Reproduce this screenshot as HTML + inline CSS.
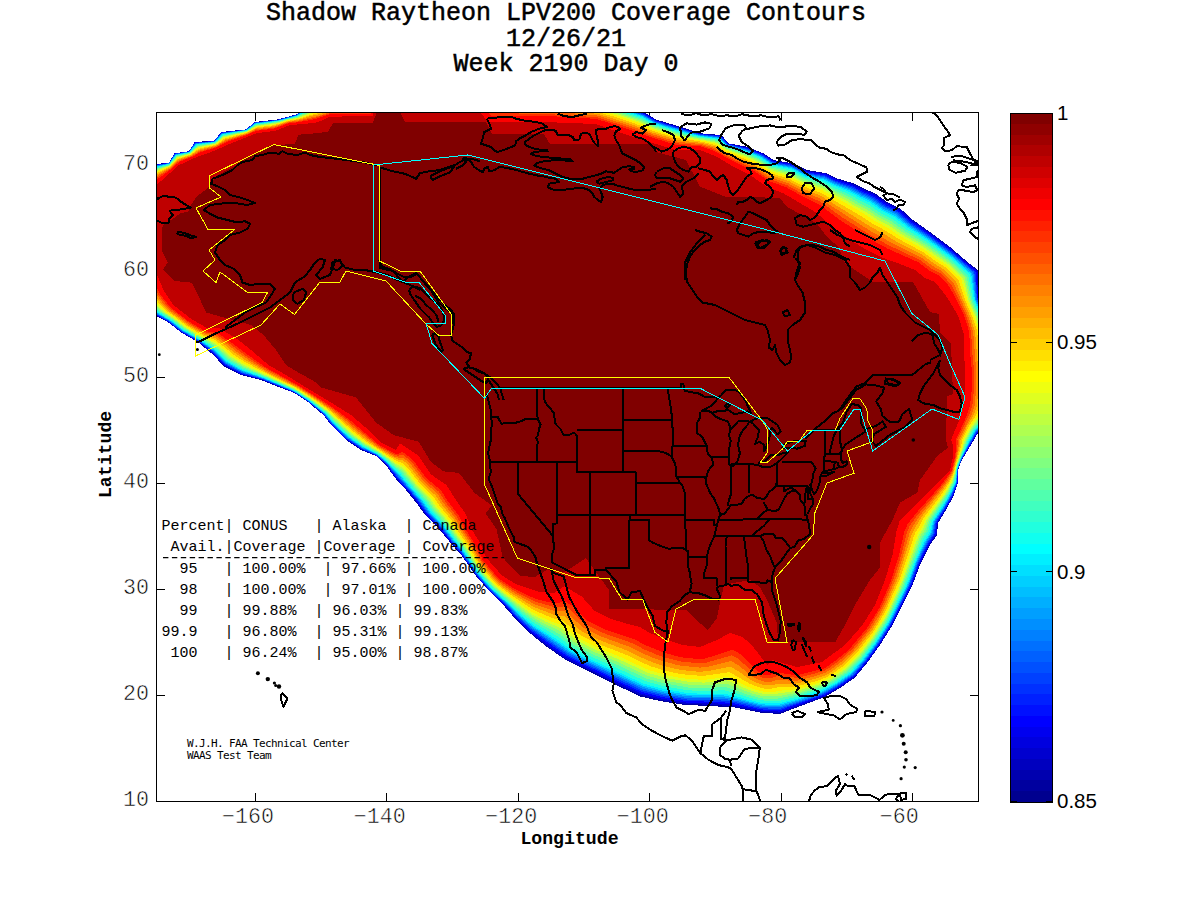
<!DOCTYPE html><html><head><meta charset="utf-8"><title>Shadow Raytheon LPV200 Coverage Contours</title>
<style>html,body{margin:0;padding:0;background:#fff;overflow:hidden}svg{display:block}.mono{font-family:"Liberation Mono","DejaVu Sans Mono",monospace}.sans{font-family:"Liberation Sans","DejaVu Sans",sans-serif}</style></head><body>
<svg width="1200" height="900" viewBox="0 0 1200 900">
<rect width="1200" height="900" fill="#fff"/>
<defs><clipPath id="ax"><rect x="157" y="113" width="821" height="688"/></clipPath></defs>
<path stroke="#000" stroke-width="1" fill="none" d="M255.5 801V793M255.5 113V121M386.5 801V793M386.5 113V121M518.5 801V793M518.5 113V121M649.5 801V793M649.5 113V121M781.5 801V793M781.5 113V121M912.5 801V793M912.5 113V121M157 165.5H165M978 165.5H970M157 271.5H165M978 271.5H970M157 377.5H165M978 377.5H970M157 483.5H165M978 483.5H970M157 589.5H165M978 589.5H970M157 695.5H165M978 695.5H970"/>
<g clip-path="url(#ax)">
<g shape-rendering="crispEdges"><path fill="#00009f" d="M156 164 169.3 162.7 174.7 153.3 189.3 151.3 194.7 142 214.7 140.7 221.3 132 246.7 129.3 254.7 122 278.7 119.3 297.3 114 299 112 310 106 330 106 373 105 400 98 480 92 540 92 580 96 620 104 644 112 656 119.5 681 127 700 133.3 721.7 135 728.3 143.3 746.7 146.7 763.3 153.3 773.3 160 793.3 163.3 806.7 170 826.7 173.3 836.7 178.3 853.3 183.3 863.3 188.3 875 193.3 886.7 201.7 900 208.3 912.5 219.5 930 232 950 247 967.5 262 978 270 979 298 986 315 992 333 995 360 997 387 995 410 988 425 978 433 975 438 968 450 961.7 460 958 470 958 483 953 497 946 510 938 523 937 535 930 545 920 565 912.5 585 902.5 605 892.5 625 880 645 867.5 662.5 855 677.5 840 688 825 697 810 702.5 790 710 780 714 760 712.5 735 707.5 710 706 685 705 660 701 640 696.4 617.8 685.8 600 676.9 582.2 668 564.4 659.1 546.7 646.7 528.9 632.4 514.7 618.2 504 605.8 489.8 591.6 475.6 575.6 462 556 449 541 438.9 528.9 426 516 416 502.4 406 490 400 484 391 472.5 386 465 376 456 361 450 346 440 331 425 323.5 415 308.5 402.5 293.5 392.5 273.5 385 261 380 241 375 223.5 366 213.5 355 198.5 342.5 181 332.5 168.5 322.5 156 316 145 305 132 280 128 240 130 200 140 175Z"/>
<path fill="#0000cf" fill-rule="evenodd" d="M781 712.5 780 712.9 774.5 712.8 761 711.9 734.5 706.3 709 704.7 686 704.1 660.5 700 640.5 695 619.9 685.5 564.5 658.1 547.2 646 529.5 632.1 513.7 616.5 505.1 606 488.5 590 478 578 460.5 553.5 448.1 539.5 440 529.3 426.3 515.5 415.2 500 407.5 490.9 399.7 483 391 471.9 386.4 465 379 458.1 374.5 454.9 361 449.5 346 439.5 331 424.5 322.5 413.6 308 401.7 294.5 392.7 262 379.8 241.1 374.5 223.8 365.5 213 353.9 200.5 343.6 196.5 340.8 181 332.1 168 321.8 156 315.5 145.1 304.5 132.3 279.5 128 241.5 130.1 200 140.5 175 156 164.4 169 162.7 174.5 153.4 189 151.2 194.5 142.4 214 141 221 132.4 246 129.4 254.5 122.3 278 119.5 296.5 114.5 299 112.3 310.5 106.3 350.5 106.1 352.5 105.6 372 105.3 375 104.1 400.5 98 432.5 96.1 481 92.2 539.5 92.4 579.5 96.4 619.8 104.5 643.8 112.5 656.5 120.3 700.5 133.7 721.5 135.5 728.5 143.7 747.9 147.5 762.8 153.5 773.5 160.8 792.7 163.5 807 170.9 826 173.5 836.5 178.8 852.5 183.7 864 189.5 874.5 193.8 886.5 202.5 899.9 209 913 220.9 929 232 949 247 965.5 261.3 977 270 977.5 270.9 977.5 277 978 278 978.6 298.5 985.5 314.7 991.5 332.7 992.1 336 994.6 358.5 996.1 383.5 996.6 385 994.5 410.2 987.5 424.7 977.5 433 961.3 460.5 958 469.5 957.6 483.5 953 496 950.5 501 937.6 523 936.5 534.5 929.3 545 920.1 563.5 912.5 583.8 892 624.9 879 645.8 867.3 662 855.3 676.5 844.2 684.5 824.6 696.5 781 712.5Z"/>
<path fill="#0000ff" fill-rule="evenodd" d="M780 711.6 761 710.6 734.5 704.9 718 703.5 686.5 702.6 661 698.5 641 693.4 621 684.2 565.5 657 548 644.8 530 631.1 514.5 616.3 505.7 606 489 590.1 478.4 578 460.9 553.5 448.8 539.5 440.5 529 426.8 515 415.6 499.5 408 490.5 400.2 482.5 391.5 471.9 386.8 465 379.1 458 375.5 455.1 361.5 449.4 346 439 331.4 424.5 322.6 413.5 308 401.6 294.5 392.6 262 379.6 241.5 374.1 224 364.9 213 353.3 200.5 343.3 181.4 332 168.5 321.8 156.5 315.4 145.6 304.5 132.6 279.5 128.1 241 130.2 200 140.5 175.4 156.3 164.5 169 162.8 174.6 153.5 189 151.3 194.8 142.5 214 141.1 221.2 132.5 246 129.5 254.5 122.5 278 119.7 296.5 114.7 299 112.5 310.5 106.5 350.5 106.3 352.5 105.8 372 105.4 375 104.1 400.5 98.1 432.5 96.2 481 92.3 539 93 579 96.9 619.5 104.9 643.5 112.9 656 120.5 700.5 133.9 721 135.7 728 143.7 747.5 147.8 762.5 153.9 773 161.1 792.5 164.2 806.5 171.4 825.5 174.4 836.5 179.8 852.5 185 863.5 190.7 873.5 194.8 885.6 203.5 899 210.1 912 221.6 929 233.3 949 248.1 965 262 975 269.7 976.5 271.5 978.2 298.5 985.1 315 991 333 991.6 336.5 994.5 364.5 995.9 385.5 993.8 410 987 424.4 977.1 433 968 449.2 961.8 459 957.9 469.5 957.6 482.5 957 484.7 952.9 495.5 949.8 501.5 937.2 522.5 935.5 534.5 928.4 545 919.2 564 912 583.6 891.5 624.8 878.5 645.6 867 661.5 854.5 676.3 841 685.8 824.5 695.6 780 711.6Z"/>
<path fill="#0030ff" fill-rule="evenodd" d="M780 710.1 775.5 710.3 761.5 709.4 735 703.5 726 702.6 718.5 701.9 686.5 701 661.5 697 641.5 691.8 621.5 682.7 566.5 655.8 530.5 630.1 515.4 616 506.1 605.5 491 591.4 486 585.9 476.1 574.5 461.3 553 449.3 539 441.1 528.5 427.6 514.5 416.2 499 408.5 489.9 401 482.2 392 471.5 386.9 464.5 379.5 457.9 375 454.6 361.5 448.9 346.5 438.6 332 424.5 323 413.5 308 401.3 294.5 392.3 262.5 379.4 241.5 373.4 224.5 364.3 216.8 356 210 350 197 340.4 181.4 331.5 168.5 321.4 156.5 314.8 146 304 133 279.1 130.9 266.5 128.2 241 130.4 200 134.5 189.5 140.9 175.5 156.5 164.8 169 163 175 153.6 189 151.5 195 142.8 214 141.3 221.5 132.7 246 129.7 254.9 122.5 278 119.8 296.5 114.9 299.5 112.5 310.5 106.9 350.5 106.4 352.5 105.9 371.5 105.5 375 104.2 400.5 98.3 432.5 96.3 481 92.5 506 93.7 538.5 93.8 543.5 94.2 579 97.6 619 105.6 643.5 113.7 654.7 120.5 657.5 121.6 700.5 134.2 720.5 136.2 728 144.2 747.5 148.5 762.1 154.5 773 161.8 792 164.9 806.5 172.3 825.5 175.5 836 180.8 852 186.2 863 191.9 872.7 196 885 204.8 898 211.1 911.5 222.7 928.1 234 951.5 251.4 975.5 272 977.6 299 984.5 315.5 989.9 332 990.8 336.5 993.7 365 995.1 385.5 993 409.6 986.5 423.7 976.7 432.5 961.7 459 957.8 469.5 957.2 483 952.3 495.5 945.2 508.5 936.6 522 934.7 534 927.6 544.5 918.6 563.5 911.2 583.5 897.2 612 890.7 625 878 645.1 866 661.5 854 675.6 837.5 687.1 824 694.8 780 710.1Z"/>
<path fill="#0060ff" fill-rule="evenodd" d="M776 709 761.5 708.1 735.5 702.2 726 701 718.5 700.3 687 699.5 662 695.4 642 690.3 587.5 664.7 567.5 654.6 531 629 516 615.4 506.6 605 491.5 591.1 486.3 585.5 476.8 574.5 461.7 552.5 449.8 538.5 441.7 528 428.5 514.2 416.9 498.5 392.5 471.1 387.5 464.5 379.7 457.5 376 454.7 362 448.5 346.7 438 332.2 424 323 413 308 401 294.5 392.1 262.5 378.9 242 372.8 225 363.7 217.3 355.5 210.5 349.6 197.5 340.2 181.5 331 169 321.2 157 314.4 146.5 303.6 133.5 279 131.1 266 128.4 241 130.6 200 134.5 189.9 141.2 176 156.5 165.3 169 163.2 175 154 189 151.7 195.5 143 214 141.5 215.8 140 221.5 133.1 246 129.8 255 122.8 278 120 296.5 115 299.5 112.8 311 107.3 328.5 106.6 350.5 106.6 369 105.8 372.5 105.4 375 104.2 400.5 98.4 481 92.9 505.5 94.5 538.5 94.6 578.5 98.3 619 106.3 643 114.3 655.5 121.6 695 133.3 700.5 134.7 720.5 136.8 727.6 144.5 747 149 762 155.2 772.5 162.3 792 165.8 806 173 825 176.5 835.5 181.8 851.5 187.3 862.5 193.1 872.5 197.5 884.4 206 897.5 212.4 910.5 223.5 931.5 237.8 954.5 255.2 974.2 272 975.3 279.5 976.9 299 983.7 315.5 989.5 333.5 992.9 365 994.2 386 992.1 409.5 986 423 976.4 432 961.7 458.5 957.6 469.5 956.9 482.5 951.6 495.5 944.5 508.2 935.7 522 933.6 534 926.8 544 917.8 563.5 910.4 583.5 896 613 890 624.8 877.2 645 865.5 660.9 853.4 675 837 686.4 821.5 694.8 781 708.5 776 709Z"/>
<path fill="#008fff" fill-rule="evenodd" d="M779.5 707.5 762 706.9 735.5 700.7 725.5 699.2 718.5 698.6 687.5 698 662 693.8 642.5 688.7 588 663.2 568 653.2 531.5 628 516.9 615 507.5 604.9 491.5 590.3 486.6 585 477.1 574 462 552 450.5 538.3 442.3 527.5 429.5 514 417.5 498 385.1 461.5 376.5 454.5 362 447.9 347 437.5 332.5 423.5 324.6 414 308.5 401 293.5 391.2 262.5 378.5 242 372.1 225.5 363 217.8 355 211 349.1 197.5 339.7 182 330.8 169 320.6 157.4 314 147.3 303.5 134.1 279 131.4 266 128.5 241 130.8 200 134.7 190 141.5 176.4 157 165.6 169 163.4 175.5 154.2 189 151.9 195.5 143.5 214.5 141.5 222 133.4 246 130 255 123.1 278 120.2 297 115.2 299.5 113.2 311 107.8 328 106.9 364.5 106.4 372 105.5 375 104.2 400.7 98.5 481.5 93.2 505 95.3 538 95.3 578.5 99.1 601 103.1 619 107.1 643 115.1 655.5 122.3 695 133.8 700 135.1 720 137.3 727.5 145 747 149.7 761.5 155.7 772.5 163.1 791.5 166.5 805.5 173.7 825 177.6 835 182.7 851 188.4 862 194.3 871.5 198.5 883.5 207 896.5 213.4 909.8 224.5 931 238.7 954 256.1 973.2 272.5 974.3 279.5 976.1 299 982.9 315.5 988.7 333.5 992 365 993.4 386 991.2 409.5 985.4 422.5 975.6 432 961.4 458.5 957.5 469.5 956.5 482.5 951.2 495 944 507.8 935.1 521.5 932.7 533.5 926 543.5 917.1 563 908.2 586.5 889.7 624 876.7 644.5 864.9 660.5 852.6 674.5 836.5 685.7 823.5 693 798 701.9 779.5 707.5Z"/>
<path fill="#00bfff" fill-rule="evenodd" d="M780 706 776 706.4 762 705.6 735.5 699.2 723 697.2 687.5 696.4 662.5 692.3 643 687.1 588.5 661.8 569 652.1 556 642.6 532 626.9 517.5 614.3 508 604.5 493.5 591.4 487.3 585 477.5 573.6 462.8 552 451 537.8 443 527 430 513.2 421.5 501.5 403.3 481 400.5 477.2 385.5 461.3 376.5 454.1 362.4 447.5 347.5 437.1 333.2 423.5 325 413.8 308.5 400.6 293.7 391 263 378.2 242 371.3 226 362.4 218.3 354.5 211.5 348.7 198 339.5 182.4 330.5 171 321.4 157.5 313.4 147.7 303 134.5 278.5 131.7 266 128.7 241 131 200.5 134.9 190 142 176.5 157 166.1 169 163.7 175.5 154.6 189.2 152 196 143.8 214.5 141.8 222 133.8 246.4 130 255.5 123.3 278 120.5 297 115.5 300 113.4 311 108.2 328.5 107.2 364.5 106.7 372 105.6 375 104.3 401 98.7 481.5 93.6 490.5 94.2 504.5 96.1 538 96.2 578.5 99.8 598.5 103.3 618.5 107.7 642.5 115.7 655.5 122.9 685 131.6 700 135.5 719.5 137.8 727.5 145.5 747 150.4 761.5 156.5 772 163.6 791.5 167.4 805.5 174.6 825 178.7 835 183.9 850.5 189.6 861.4 195.5 871 199.9 883 208.3 895.5 214.4 909.1 225.5 930.5 239.7 953.5 256.9 972.3 273.5 975.5 299.5 982.4 316 988 334 991.3 365.5 992.5 386 990.3 409.5 984.8 422 975 431.9 961.1 458.5 957.3 469.5 956.1 482.5 950.6 495 943.5 507.3 934.5 521 931.7 533 925.2 543 916.5 562.5 910.2 580 906.7 588 889.2 623.5 876.2 644 864.3 660 852 673.9 836 685.1 823 692.2 797.5 700.9 780 706Z"/>
<path fill="#00efff" fill-rule="evenodd" d="M778 705 762.5 704.4 750 701.7 735.5 697.7 723 695.4 701 695.5 687.5 694.8 662.5 690.6 643.5 685.6 589 660.4 569.5 650.6 557 641.5 533.5 626.6 529.5 623.4 518 613.6 508.5 604 491.7 589 487.6 584.5 478 573.4 463.2 551.5 454.4 541 443.5 526.4 430.5 512.5 422.2 501 404 480.5 401 476.5 385.9 461 377 453.9 362.5 446.9 347.7 436.5 333.5 423.1 325.3 413.5 308.5 400.2 294 390.8 263 377.7 242.5 370.8 226.5 361.8 218.8 354 212 348.2 198 338.9 182.5 330 171.2 321 157.9 313 148.5 303 139.6 286 135.1 278.5 132 266 128.9 241 131.2 200.5 135.2 190 142.2 177 157 166.6 169.5 163.6 175.6 155 189.5 152.1 196 144.2 214.5 142.1 222.5 134.1 246.5 130.2 255.5 123.6 278 120.8 297 115.8 300 113.7 311.5 108.6 328.5 107.5 365 107 372 105.7 375 104.3 401 98.9 481.5 93.9 490.5 94.7 504 96.9 538 97 578 100.5 598.5 103.9 618.5 108.5 642.5 116.4 655 123.4 677 130.1 700 136 719.5 138.5 727 145.8 746.5 150.9 761 157 772 164.3 791 168.2 805.5 175.5 824.5 179.7 834.5 184.8 850 190.7 860.5 196.5 870.2 201 882.3 209.5 894.5 215.5 908.4 226.5 929.8 240.5 952.7 257.5 971.3 274 974.8 299.5 981.6 316 987.2 334 990.4 365.5 991.7 386.5 989.6 409 984.1 421.5 975 430.9 970 439.5 960 460.5 957.1 469.5 955.8 482 951.8 491 943 506.8 933.6 521 930.8 532.5 924.4 542.5 915.7 562.5 909.4 580 905.9 588 888.5 623.3 875.6 643.5 863.7 659.5 851.5 673.2 835.5 684.4 820.5 692.1 797 700 778 705Z"/>
<path fill="#20ffdf" fill-rule="evenodd" d="M777.5 703.5 760.5 702.5 748 699.7 735.5 696 723.5 693.5 701 693.7 688 693.1 663 688.9 644 683.8 589.5 658.8 570.5 649.2 557 639.3 534 625.4 524 617.3 492.6 589 488 584 475.8 569.5 463.6 551 455 540.5 443.9 525.5 431.5 512.1 423.1 500.5 404.8 480 400.5 474.5 394.8 469.5 386.1 460.5 377.2 453.5 363 446.5 348.1 436 334 422.7 325.4 413 309 400.1 294 390.4 263 377.2 242.5 370 227 361.1 219.5 353.5 212.5 347.6 198.3 338.5 183 329.7 171.5 320.6 158.3 312.5 149 302.5 140.2 285.5 136 278.9 134.8 275.5 132.2 265.5 129.1 241 131.5 200.5 135.5 190 142.5 177.4 157.5 166.9 169.5 163.9 176 155.2 189.5 152.4 196.5 144.6 214.5 142.3 216.4 141 222.5 134.6 246.5 130.4 255.5 124 278.3 121 297 116.1 300.4 114 311.5 109.2 328.5 107.8 365 107.4 372 105.8 375 104.3 401 99.1 481.5 94.3 490 95.2 503.5 97.8 537.5 97.8 578 101.3 598.5 104.7 618.5 109.3 642 117.1 655 124.2 677 130.8 699.5 136.4 719 139.1 727 146.3 746.5 151.7 760.5 157.6 772 165.2 791 169.2 805 176.4 824.5 181 834 185.9 850 192.3 860 198 869.6 202.5 881.8 211 894 217 907.4 227.5 929 241.4 952.2 258.5 970.1 274.5 973.9 299.5 980.9 316.5 986.2 333.5 989.5 365.5 990.7 386.5 988.6 409 983.4 421 974.5 430.4 969.6 439 960.8 458 958.3 464.5 956.9 469 955.4 481.5 954.5 483.8 946.5 499.7 932.9 520.5 929.7 532 923.5 542 914.9 562 908.7 579.5 905.2 587.5 888 622.7 876 641.6 863 659 850.8 672.5 835 683.6 820 691.2 796.5 698.9 777.5 703.5Z"/>
<path fill="#50ffaf" fill-rule="evenodd" d="M778 701.1 769.5 701.1 760.5 700.2 750.5 697.9 736 693.3 724.5 690.3 701 691 688.5 690.3 678.5 688.8 663.5 686.1 645 681 615.5 667.3 590.5 656.3 572 647 558.5 636.9 535 623.5 520.5 612.3 493.5 588.5 489 583.7 476.6 569 464.6 550.5 456 539.8 445 524.5 432.7 511 426.8 502.5 405.9 479 401.5 473.2 395.6 468.5 386.8 460 377.7 453 363.1 445.5 349 435.3 335 422.4 325.9 412.5 309.1 399.5 294 389.9 263.5 376.5 243 368.8 227.9 360 220.3 352.5 213 346.5 183.4 329 172 320 159 311.8 150 301.9 141.2 285 136.9 278.5 135.6 275 132.8 265.5 129.4 240.5 132 200.5 135.7 190.5 143.1 178 157.5 167.8 169.5 164.4 176.5 155.7 189.5 152.9 197 145.2 214.5 142.8 216.5 141.5 223 135.2 246.5 130.8 256 124.5 274.5 122.2 297.5 116.5 300.5 114.6 311.5 110 328.5 108.3 365.5 107.9 372.5 105.8 375 104.4 401 99.4 481.5 95 489.6 96 502.5 99.3 537.5 99.3 578 102.7 600.5 106.3 618 110.5 641.5 118.3 654.5 125.2 676.5 131.8 699.5 137.2 703.5 137.5 718.5 140 726.5 147 745 152.3 758.5 158 771.5 166.3 790.5 170.6 804.5 177.8 824 182.8 833 187.6 849 194.3 859 200.1 868.5 204.7 880.5 213.1 892.5 219 905.7 229 928 243 951 259.8 968.3 275.5 972.7 300 979.8 317 984.8 333.5 988.1 366 989.2 386.5 987 408.8 982.3 420 973.8 429.5 968.7 438.5 957.9 464.5 956.5 469 955.8 475.5 953.8 483.5 945.5 499.2 931.3 520.5 927.9 531.5 924.4 536.5 922 541.1 903.6 588 887 622 874.9 641 862 658.1 851.6 669.5 849 672 834 682.4 819.5 689.6 796 697 778 701.1Z"/>
<path fill="#80ff80" fill-rule="evenodd" d="M778 698.5 770 698.8 763.5 698.5 758.5 697.5 748.5 694.9 725.5 687 702 688.2 688.5 687.5 664 683.3 646.5 678.5 617 664.8 591.8 654 573.5 644.8 559.5 634.1 536.5 621.9 521.5 611 493.5 587.2 482.6 575 475.2 565.5 465.5 549.9 454.3 535.5 446.4 524 434 510.1 428.1 501.5 415 487.3 402 471.5 396.5 467.6 388.1 460 378.2 452.5 363.5 444.6 349.5 434.4 335.5 421.6 326 411.7 309.5 399.1 294.5 389.5 263.5 375.7 243.5 367.7 229 359 221.1 351.5 213.7 345.5 184 328.4 172.5 319.3 159.7 311 151.1 301.5 142 284 137.8 278 134.7 270 133.2 265 129.8 240.5 132.5 200.5 136.1 190.5 143.8 178.5 157.9 168.5 169.5 164.9 176.5 156.4 190 153.1 197 146 215 143.1 223 136 246.5 131.2 256 125 278.5 121.9 287 119.2 297.5 117 301 115.1 311.5 110.9 329 108.8 366 108.4 375 104.4 401 99.8 481.5 95.6 489.5 96.9 501 100.7 537 100.7 577.5 104 598 107 618 111.9 641 119.5 654 126.1 676.5 133 699 138 703.5 138.3 718 141 726.5 148 745 153.5 758 159.1 771 167.4 790.5 172.2 804.5 179.4 823.5 184.7 832.5 189.4 848 196.4 858 202.3 867.4 207 879.5 215.3 891 221 904.5 230.9 928.5 245.6 950 261.2 966.5 276.5 971.4 300 978.6 317.5 983.6 334 986.6 366 987.7 387 985.8 407.5 983 415 981 419.5 973 428.8 967.8 438 957.6 464 956.1 469 955.5 474.2 953.6 482 947 494.7 929.9 520 926.1 531 922.9 535.5 920.4 540.5 902.4 587.5 885.9 621.5 873.7 640.5 860.8 657.5 850.5 668.5 848 670.9 833.5 681 818.5 688.1 795.5 695.1 778 698.5Z"/>
<path fill="#afff50" fill-rule="evenodd" d="M771 696.5 763.5 696.2 754 694.1 726.5 683.7 703 685.4 689 684.7 664.5 680.5 647 675.6 618.9 662.5 593 651.6 574.5 642.3 560.5 631.3 541 621.9 531.5 616.2 522.9 610 499 590.6 494 586.3 480.9 571.5 475 563.5 466.1 549 455.1 534.5 447.5 523 435.1 509 429.4 500.5 416.2 486.5 402.5 469.8 396.5 465.9 388 458.8 378.7 452 364 443.8 350.1 433.5 336.3 421 326.5 411.2 310 398.8 294.5 388.9 244 366.5 230 358 214.4 344.5 202.5 338.3 184.5 327.7 173 318.7 162.7 312 159.6 309.5 152.1 301 143.1 283.5 138.8 277.5 135.3 269.5 133.7 265 130.1 240.5 132.9 201 135.5 192.5 144.5 179 158 169.3 170 165.1 177 156.9 190.1 153.5 197.5 146.6 215 143.6 223.5 136.5 246.6 131.5 256 125.6 278.5 122.4 287.5 119.5 297.6 117.5 312 111.6 329 109.4 366.5 108.9 375 104.5 401.5 100.1 482 96.3 489.5 97.9 500 102.1 537 102.1 577.5 105.3 600 108.5 617.5 113.1 640 120.5 653.5 127.1 678.5 134.6 717.6 142 726 148.6 744.5 154.6 757.5 160.2 771 168.7 790 173.6 804 180.9 823 186.5 847 198.4 857 204.5 866 209.1 878 217.2 889.5 223 903 232.6 927.5 247.2 949 262.6 964.7 277.5 970 300 977.4 318 982.3 334.5 985.2 366.5 986.1 387 984.2 407.5 980.4 417.5 972 428.3 967 437.5 957.2 464 952.8 482 946 494.3 928.3 520 924.6 530 921.4 534.5 919 539.5 901.3 587 887 617 872.9 639.5 859.8 656.5 849.4 667.5 843.1 672.5 830 681.3 819.5 686 798.5 692.5 777 696.3 771 696.5Z"/>
<path fill="#dfff20" fill-rule="evenodd" d="M774 694 764 694 754.5 691.8 747 689.1 727 680.3 704 682.6 689.5 681.9 667.5 678.3 648 672.8 625 662 594 649.1 576 640.1 561.5 628.4 545.5 621.5 531.5 614 524.5 609.1 499.3 589.5 491.3 582 478.9 567.5 467.1 548.5 456.3 534 448.5 522 436.5 508.2 430.6 499.5 417.1 485.5 403 468.1 396 464 379 451.4 364.5 443 351 432.9 326.8 410.5 310 398.1 295 388.6 244 365.1 230.5 356.6 222.7 349.5 215 343.5 203 337.7 184.9 327 173.5 318.1 166.5 313.6 160 308.5 152 299 144 282.8 140 277.5 136.3 270 134.3 265 130.5 240.5 133.3 201 136 192.5 145.2 179.5 158 170.2 170 165.6 177.2 157.5 190 154 198 147.2 215.5 143.9 224 137.1 247 131.8 256.5 126.1 273.5 124 278.5 122.9 287.5 120 298 117.9 312 112.5 329 109.9 366.8 109.5 375 104.6 401.5 100.5 482 97 489 98.7 499 103.5 537 103.6 577.5 106.6 599.5 109.6 617.5 114.4 639.5 121.7 653.5 128.3 678 135.7 698.5 139.5 703 139.9 717.5 143.1 725.9 149.5 744.5 155.8 757 161.3 771 170.1 789.5 175 803.5 182.3 822 188.2 846 200.5 855.5 206.4 864.5 211.1 877 219.5 888 225 901.5 234.3 924.5 247.5 948 264 962.8 278 964.2 282 968.6 300 975.2 315.5 980.4 332 983.7 366.5 984.6 387 982.8 407 979.1 417 971 427.9 964.7 440 963.1 446 956.8 464 954.7 473.5 952.1 481.5 945 493.9 926.8 519.5 922.8 529.5 919.9 533.5 917.7 538 902.6 580.5 890 608.5 883.7 620.5 871.7 639 858.9 655.5 851 663.8 846.1 668.5 831.5 678.7 819 684.4 798 690.7 774 694Z"/>
<path fill="#ffef00" fill-rule="evenodd" d="M776 691.5 764 691.7 755 689.5 747.5 686.6 728 676.9 704.5 679.8 689.5 679.1 677.5 677.5 668 675.5 649 670.1 637.4 665 626 659.3 595 646.7 578 638.1 572.5 634.2 562.5 625.5 550.5 621.2 541 616.9 531.5 611.8 510 596.5 497.5 586.7 492 581.4 479.5 566.7 475 560.1 469.4 550 457.2 533 449.6 521 437.6 507 431.9 498.5 418.5 484.9 405.5 468.5 403 466 395.5 462.3 379.5 450.9 364.7 442 351 431.5 327 409.7 310.5 397.8 295 388 244.5 363.9 231.3 355.5 223.5 348.5 215.5 342.4 203.5 337 187.5 327.7 174 317.5 167 312.9 160.9 308 153 298.5 144.9 282 141 277 135 265.5 130.8 240.5 133.8 201 136.4 192.5 145.8 180 158.5 170.8 170.1 166 177.5 158 190 154.4 198 147.9 215.5 144.3 224 137.8 247 132.1 256.5 126.7 274.5 124.4 287.5 120.4 298 118.4 312.5 113.3 329 110.4 367 110.1 375 104.6 401.5 100.8 482.5 97.7 489 99.8 497.5 105 542 105.3 577 107.9 599.5 110.8 617 115.6 634 121.2 639.5 123.1 653 129.3 675.5 136.1 693 139.5 703 140.7 716.5 143.8 725.5 150.3 744 156.8 756.5 162.4 771 171.5 789.5 176.6 803 183.8 822 190.2 845.5 202.9 863.5 213.4 876 221.7 887 227.3 900 236 923.5 249.2 936.5 258.6 947 265.4 961.1 279 967.4 300.5 974 316 979 332 982.3 366.5 983 387 981.3 406.5 977.9 416 970.3 427 963.8 439.5 962.4 445.5 955.1 468.5 954.2 473.5 951.3 481.5 942 496.4 926.3 517.5 921.2 528.5 918 533.2 915.5 539 899 586 886.5 613 882.6 620 870.9 638 858 654.5 852.8 660 845 667.4 831 677.3 818.5 682.8 800.5 688.1 793 689.6 778.5 690.8 776 691.5Z"/>
<path fill="#ffbf00" fill-rule="evenodd" d="M772.5 688.5 764 688.5 755 686.1 748.4 683 729.5 672.1 704.5 675.8 690 675.2 675.5 673.1 661.5 669.7 650.5 666.2 638.5 661 627.5 655.4 596.5 643.2 581 635.5 575 631.3 563.5 621 552.5 618.2 533.5 609.9 511 595.1 498 585.3 493 580.5 478.7 563.5 470.8 549.5 458.6 532 451.7 520.5 439.5 505.8 433.7 497 419.9 483.5 407 467 403.5 463.6 395 460.1 365.6 441 352.1 430.5 327.7 409 311 397.2 295.5 387.4 263.9 372 244.5 361.8 232.6 354 224 346.6 215 340 204 335.9 186 325.4 174.5 316.4 167.5 311.8 162 307 154.3 297.5 146.2 281 142.5 276.5 135.8 265.5 134.5 260 131.3 240.5 131.3 237.5 134.4 201.5 136.5 193.5 138 191.1 147 180.6 159 171.8 170.5 166.4 178 158.7 190.5 154.8 198.5 148.8 216 144.8 224.5 138.7 247 132.7 256.6 127.5 274 125.3 287.5 121 298 119.2 312.5 114.5 328.5 111.2 367.5 110.8 369.1 110 375 104.7 381 103.8 401.5 101.3 482 98.6 485 99.3 488.3 101 495.5 107 541.5 107.3 577 109.8 599 112.4 616.5 117.3 633.5 122.9 652.5 130.8 675.5 137.8 702.5 141.8 716 145.2 725.5 151.6 743.5 158.4 756.5 164.3 770.5 173.2 789 178.7 802 185.7 822 193.3 861.8 216.5 874 224.6 885 230.3 897 238 923.5 252.3 935 260.8 945.1 267 958.8 280.5 965.7 301.5 972.3 316.5 976.6 329.5 977.5 334.5 980.2 367 980.9 387 979.1 406.5 976 415.4 968.8 426.5 962.2 439.5 961.5 444.5 953.5 473.3 950.2 481 945.5 488.5 940 496.5 924.2 517 918.5 528 915.7 532 914 536 899.8 579 885.1 612 873 632.1 856.5 653.3 844 665.5 832.5 673.8 826.5 677.2 817.5 680.7 799 685.8 792 686.8 778 687.4 772.5 688.5Z"/>
<path fill="#ff8f00" fill-rule="evenodd" d="M772.5 685 764.5 685.1 756 682.7 750.1 679.5 738.5 671.3 730.5 666.6 707 671.3 698.5 671.7 689 670.9 677 669.2 662.5 665.5 652 662.1 640 657 629.5 651.5 598.5 639.7 583 632 577.3 628 564.5 616.2 558.5 615.6 553 614.4 533.5 606.8 511.5 593.4 498.7 584 494 579.5 479.6 562.5 472 548.5 460 530.6 453.5 519.3 441.5 504.5 435.6 495.5 421.5 482.2 408.5 465.2 403.5 460.7 398 459.5 394.5 458.1 376.5 447 366.5 439.9 353.3 429.5 328.1 408 311.4 396.5 296 386.8 264.5 371 245.5 360.2 234 352.4 225 345 215.5 338.2 204 334.5 189 325.9 168.5 310.9 163 305.8 155.6 296.5 147.5 279.6 142.7 274 136.8 265.5 135.9 263.5 131.9 241 131.8 238 135 201.5 136.9 194 137.7 192.5 147.8 181.5 159.5 172.9 170.5 167.2 178.5 159.4 190.5 155.5 199 149.7 216 145.5 225.1 139.5 246.5 133.4 257 128.2 274 126.1 288 121.5 298 119.9 310 116.3 329 111.9 368.5 111.6 375.5 104.6 401.5 101.9 482 99.6 486.4 101.5 491.7 107.5 494.5 109.1 541.5 109.4 571 111.2 598.5 114 632.5 124.6 652 132.4 675 139.3 682 140.7 702 143 715 146.5 725 152.8 743 160 755.5 165.8 770 175.1 788 180.7 801 187.7 821 195.9 872.5 227.9 884.9 234.5 895.4 241 922.5 254.9 933.5 263.2 943.5 269.1 947.4 272.5 956.3 282 963.2 300.5 970.3 316.5 975.1 332 978 367 978.6 387 976.9 406 974.3 414 967.2 426 960.5 440 960.2 444.5 953.1 472.5 948.9 481 944.4 487.5 922.2 516 914.3 529 911.4 535.5 898.1 578 885.4 607.5 879.7 618 871.9 630.5 855.4 651.5 842.5 663.8 831.1 672 826 675 815 678.8 798.5 683.2 794 683.7 778 683.7 772.5 685Z"/>
<path fill="#ff6000" fill-rule="evenodd" d="M772 681.6 764.5 681.7 757 679.3 752.5 676.5 738 665.1 731.5 661 706.5 667.1 699.5 667.6 678.5 665.3 664 661.5 654 658.2 642 653.2 631 647.3 600.5 636.3 585 628.6 580.5 625.4 568.2 613.5 565 611.3 558.5 611.4 554 610.8 534 604 512.5 591.9 499.5 582.7 495 578.5 480.6 561.5 473.5 547.9 461.5 529.5 455.2 518 443.5 503.2 437.5 493.9 423.2 481 410 463.5 403.5 457.8 398 457.5 394.5 456.5 377.7 446.5 354 428 348.5 422.9 332.4 410 312 395.9 296.5 386.2 265 369.9 249.5 360.5 235.5 350.9 226 343.3 216 336.4 204 333.2 189.5 324.7 169.4 310 164 304.6 157 295.5 148.9 278.5 137.1 264.5 135.8 259.5 132.5 241 132.4 238 135.7 201.5 138 193.1 148.5 182.6 160 174 170.5 168 179 160.1 190.5 156.2 199.8 150.5 216.5 146 225.5 140.4 247 133.8 255.5 129.5 274.5 126.8 288 122.1 298 120.7 321 115.2 329 112.7 369 112.4 373.9 106 375.5 104.7 402 102.4 481 100.5 483 100.9 485 102.1 486.7 104 489.3 108.5 493.5 111.2 541 111.5 571 113.2 598 115.6 636.5 127.9 653 134.4 675 141.1 678 141.8 701.5 144.2 714.5 147.8 724.5 153.9 754.5 167.3 770.5 177.5 787.5 182.9 802 190.8 819.5 198.3 870.5 231 893.5 243.9 921 257.3 932 265.6 942.4 271.5 953.6 283 968.5 317 973.2 332 975.9 367.5 976.2 389.5 974.6 406 972.3 413 959 439.7 959 444 956.3 458 952.5 472 947.7 480.5 943 487 920.3 515 912 527.5 909.5 533 902.5 558 896.2 577.5 884 606.5 878.3 617 870.4 629.5 854 650.1 850.8 653.5 841.1 662 830 670.1 825 672.9 814.5 676.3 798 680.5 794 680.8 777 680 772 681.6Z"/>
<path fill="#ff3000" fill-rule="evenodd" d="M768 678.5 762.5 677.8 757.6 675.5 737 658 732 655.3 706 662.8 700 663.5 679.5 661.3 665 657.4 655.5 654.2 643.5 649.1 633 643.4 602.5 632.8 587 625.1 581.6 621 570.5 609.8 565 606.2 558.5 607.2 554 607 535.5 601.8 513 590.2 500.4 581.5 496 577.5 481.5 560.5 474.8 547 465.5 532.5 457.1 517 445.5 502 439 491.9 424.7 479.5 411.8 462 404 455.5 402.5 454.6 398.5 455.7 395 455.2 378.5 445.8 355 426.8 347.4 420 333 409 322 401.5 297 385.5 262.8 367 247 356.7 227 341.7 216.5 334.6 204.5 332.1 190 323.6 168.6 307.5 158.3 294.5 150.4 277.5 138.1 264.5 137.3 263 133 241.1 132.9 238.5 136.3 202 138.4 193.5 149 183.8 160.5 175.1 170.5 168.8 177 162.6 179.5 160.9 192.5 155.9 200 151.5 216.5 146.8 226.5 141 248.5 133.8 256 130.1 274.5 127.7 288.5 122.6 298 121.5 314 118 329.5 113.4 370 113.2 373.8 106.5 375.5 104.8 402 102.9 480.5 101.4 482.5 101.9 484 103 487.2 109.5 492.5 113.4 541 113.6 597 117.2 634.5 129.3 652.5 136 675 142.8 677.5 143.4 701 145.3 713.5 149 728 157.1 753.5 168.8 769.5 179.1 786.8 185 801 192.9 818.5 200.9 823.5 203.9 842 217.2 868.5 234 888.5 245.2 920 260 930.5 268 941 273.6 951.2 284.5 955.7 293 966 315.5 971.2 332 972.1 351 973.7 366.5 974 389.5 972.3 406 969.9 413 957.5 439.5 957.7 444 955.6 458 952 471.5 946 480.8 936 493.4 917.9 514.5 909.7 526 906.9 532.5 900.5 557.5 894.5 576.5 882.3 606 869 628.5 852.3 649 838.7 661 828.5 668.4 824 670.8 814 673.9 797.5 677.8 776.5 676.2 772 678 768 678.5Z"/>
<path fill="#ff0000" fill-rule="evenodd" d="M798 675 795 675.1 775.5 672.3 772.5 674 769.5 674.9 766 675.1 763 674.4 758.4 671.5 739.5 653.5 734.5 650.6 732 649.9 704.5 658.8 701 659.4 680.5 657.2 663 652.3 645.5 645.3 634.5 639.3 604.5 629.3 589 621.7 584.3 618 573.3 606.5 564.5 601.1 558 603.1 554.5 603.4 536 599.1 514 588.8 501 580.1 497 576.5 482.5 559.5 476.5 546.9 466.7 531 459 515.9 447.5 500.7 441 490.4 426 477.9 413 460 402.5 451.8 402 451.6 398.5 453.8 395.5 454 379.2 445 350.4 420.5 330 405.5 297.5 384.9 266.5 367.9 248.5 355.4 232 342.9 217.5 333.1 205.5 331.1 203.5 330.2 187.5 320.5 170 307 159.7 293.5 151.5 276 138.5 263.7 137.5 261 133.5 241 133.4 238.5 137 202 138.7 194 149.5 184.9 170 170.1 179.5 161.8 192.8 156.5 200.5 152.3 217 147.3 228 141.4 246.5 135.2 256 130.9 274.5 128.5 288.5 123.3 298.5 122.2 314 119.3 321.5 117.2 329.5 114.2 370.5 114 371.1 113.5 374 106.5 375.5 104.9 402 103.4 480.5 102.3 482 102.8 483.2 104 485.4 110.5 491.5 115.5 544 115.7 596.5 118.9 634 131.1 652 137.6 674.5 144.4 677.5 145.1 700.5 146.4 713 150.4 735 162.2 753 170.5 769 181.1 786 187.1 800 195 817 203.3 822 206.4 840 220 867 237.4 887 248.3 918.5 262.3 929.5 270.7 939.5 275.7 948.9 286 953.8 294.5 963.7 314.5 969.3 332 970 351.5 971.5 366.5 971.8 389 970 406 964.7 420.5 955.8 440 956.5 444 954.9 458 951.5 471 940.5 485.6 916.3 513 907.5 524.2 904.4 531.5 898.5 557 890.3 582.5 879.1 608.5 867.1 628 848.6 650 837.5 659.1 827.4 666.5 823.5 668.6 798 675Z"/>
<path fill="#bf0000" d="M156 185.3 166.7 176 178.7 165.3 196 157.3 214.7 150.7 229.3 144 242.7 138.7 256 133.3 276 130.7 289.3 125.3 316 122.7 323 120 330 116.7 373 116 375 105 480 105 480 112 488 122 544 122 596 124 612 130 624 134 656 144 676 150 700 150 716.7 156.7 733.3 166.7 750 175 766.7 186.7 783.3 193.3 800 203 816.7 213 833.3 228 850 240 866.7 250 883.3 258 900 264 915 270 925 278 935 282 947.5 297.8 958 315.6 963.6 333 963.6 351 965.3 369 965.3 386.7 963.6 404.4 960 418.7 954.7 431 951 440 953 445 953 457 950 470 940 480 930 490 920 500 910 510 900 520 896.7 530 892.5 555 885 580 875 605 862.5 625 845 645 822 662 797 667 772 660 767 665 758 653 750 643 742 637 730 633 717 640 700 647 683 645 667 640 650 633 640 627.1 626.7 623.6 608.9 618.2 594.7 611.1 582.2 596.9 564.4 586.2 553.8 593.3 537.8 591.6 516.4 584.4 502.2 575.6 486.2 557.8 480.9 544.4 471.5 528.9 465.3 513.3 454.4 497.8 446.7 485.3 431 474.4 418.7 455.8 400 443.3 396 450 381 442.5 368.5 430 351 415 331 402.5 306 387.5 286 375 268.5 365 251 350 238.5 340 218.5 327.5 206 327.5 191 318.8 173.5 305 163.5 290 156 272.5 140 262 135 240 140 195Z"/>
<path fill="#800000" d="M180.6 213 188 212 190.7 205.3 196 197.3 209.3 186.7 216 176 236 165.3 249.3 156 270.7 145.3 294.7 144 298.7 134.7 316 133.3 328 131.7 333 123 373 122.5 376.7 112.5 376.7 100 400 100 400 112.5 405 122.5 486 122 492 134 544 134 550 144 608 144 648 144 656 152 686 160 700 186.7 725 196.7 750 196.7 780 198.3 786.7 206.7 816.7 223.3 826.7 236.7 838.3 246.7 845 263.3 858 272 873 282 913 282 930 312 939 314 940 333 951 344 953 394 947 396 946 440 948 448 938 455 920 480 917.5 492.5 900 502.5 892.5 520 880 542.5 880 567.5 870 580 855 605 845 625 835 642.5 778 642 777 623 767 600 760 587 750 580 723 585 723 590 720 602 717 618 708 630 693 617 687 610 640 609.3 608.9 609.3 608.9 589.8 589.3 563 585.8 557.8 578.7 563.1 564.4 572 546.7 570.2 534.2 577.3 520 575.6 507.6 563.1 502.6 556.9 496.4 528.9 485.5 513.3 491.8 505.5 474.6 493 459 472.9 443.5 471.3 431 462 418.7 441.8 393.5 435 376 422.5 366 410 356 397.5 321 387.5 316 382.5 298.5 372.5 286 365 276 350 263.5 335 251 325 206 312.5 199 297 192 282.7 174.8 281 163 269.7 167.6 262.5 161.8 251 161.8 230.7 163 225 174.8 217.7Z"/></g>
<path fill="none" stroke="#000" stroke-width="2" stroke-linejoin="round" shape-rendering="crispEdges" d="M787.3 624 793.9 623.5 794.5 625 789.3 626.1 787.3 624M799.1 621.9 800.4 626.1 799.1 631.4 797.8 628.2 799.1 621.9M792.6 639.9 795.8 642 795.2 649.4 793.2 650.5 791.2 645.2 792.6 639.9M802.4 636.7 805.7 642 806.4 646.2 804.4 642 802.4 636.7M801.8 644.1 807 656.8M809 646.2 811 651.5M811.6 656.8 814.3 663.2M818.2 665.3 821.5 670.6M822.1 682.3 826.8 682.3 826.1 685.5 822.8 685.5 822.1 682.3M831.4 674.9 836 675.9M810.3 795.7 814.9 790.4 818.9 787.2 826.8 786.2 833.3 779.8 837.9 775.6 839.9 784 836 790.4 836.6 795.7 839.9 792.5 845.2 784 847.8 786.2 854.4 786.2 858.3 794.6 869.5 794.6 879.4 799.9 885.9 794.6 895.8 793.6 899.7 793.6 895.8 798.9 900.4 803.1M797.2 816.9 801.8 815.8 807 807.4 809.7 798.9 810.3 795.7M784 805.2 790.6 807.4 797.2 816.9M899.7 792.5 905.7 792.5 906.3 798.9 901.1 799.9 899.7 792.5M845.8 773.4 847.1 775.6M851.7 775.6 854.4 779.8M281.6 692.9 287.5 698.2 283.6 706.7 280.9 699.2 281.6 692.9"/>
<g fill="#000"><circle cx="882.0" cy="712.0" r="1.6"/><circle cx="893.2" cy="720.4" r="1.4"/><circle cx="900.4" cy="725.7" r="1.6"/><circle cx="902.4" cy="735.3" r="2.4"/><circle cx="903.7" cy="743.8" r="2.0"/><circle cx="905.7" cy="752.2" r="2.0"/><circle cx="906.0" cy="759.7" r="1.8"/><circle cx="904.3" cy="767.1" r="1.6"/><circle cx="915.2" cy="767.6" r="1.6"/><circle cx="901.1" cy="778.7" r="1.6"/><circle cx="869.2" cy="547.0" r="2.2"/><circle cx="913.3" cy="440.0" r="1.8"/><circle cx="257.9" cy="673.3" r="2.0"/><circle cx="267.8" cy="679.1" r="2.2"/><circle cx="274.4" cy="683.0" r="1.6"/><circle cx="279.0" cy="686.5" r="2.2"/><circle cx="275.7" cy="685.5" r="1.5"/><circle cx="159.3" cy="354.7" r="1.4"/><circle cx="197.4" cy="349.4" r="1.5"/></g>
<path fill="none" stroke="#000" stroke-width="2" stroke-linejoin="round" shape-rendering="crispEdges" d="M486.8 394 490.7 409.9 491.4 416.8 491.7 424.7 490.7 440.6 488.1 453.3 490.1 461.8 490.7 472.4 488.7 478.8 492.7 488.3 498 504.2 501.2 507.4 501.9 512.7 505.2 519 507.8 525.4 513.7 537.1 514.4 541.8 522.9 545 527.5 546.6 530.8 549.8 535.4 557.2 536.8 562.5 540 572 544 583.7 546 591.1 553.2 601.7 556.5 610.2 555.8 613.4 560.4 620.8 565 626.1 569.6 642 570.3 647.3 576.9 652.6 582.1 663.2 586.7 661.1 587.4 657.9 581.5 649.4 578.8 643.1 574.9 633.5 572.9 625 568.3 615.5 565 604.9 561.7 596.4 557.1 587.9 553.2 579.5 551.9 571 550.6 568.9 553.8 573.1 563.7 576.3 569 596.4 576.9 611.3 586.7 626.1 590.7 636.7 596.6 642 606.5 657.9 611.7 668.5 613.7 684.4 612.4 690.8 616.3 702.4 620.9 705.6 626.2 713 636 717.3 642.6 724.7 652.5 731 662.4 736.3 672.2 740.6 680.8 736.3 685.4 735.3 691.9 740.6 700.5 753.3 708.4 759.7 718.2 765 728.1 767.1 731.4 769.2 734.7 774.5 741.3 785.1 743.2 790.4 742.6 801 747.8 803.1 754.4 808.4M761 803.1 756.4 790.4 755.7 774.5 758.4 758.6 759.7 748 751.1 739.5 741.3 737.4 731.4 739.5 726.8 740.6 724.2 738.5 726.1 732.1 726.8 721.5 729.4 713 731.4 700.3 734.7 689.7 736 680.2 731.4 679.1 724.8 679.1 715 682.3 712.3 689.7 711.7 700.3 705.1 710.9 698.5 709.8 688.7 714.1 683.4 710.9 676.8 707.7 672.2 700.3 668.9 691.8 665.6 679.1 663.7 668.5 664.3 652.6 665.6 642 667.9 631.9 666.3 622.9 667 612.3 672.2 606 680.1 600.7 684.1 595.4 689.7 592.2 698.5 593.2 705.1 595.4 711.7 598.5 718.9 599.6 720.2 596.4 716.9 589 717.6 586.9 724.8 585.3 728.1 583.7 730.7 585.8 738 584.8 745.2 590.1 751.8 590.1 757 594.3 762.3 602.8 763 612.3 766.3 624 769.5 632.5 773.5 639.9 778.1 639.9 780.1 631.4 780.7 620.8 776.8 604.9 772.2 591.1 771.5 581.6 772.8 573.1 775.5 566.7 781.4 560.4 786.6 553 790.3 548.1 794.5 546.6 798.5 540.2 803.7 539.2 810.3 533.9 809 525.4 807.7 519.6 807 515.9 805.1 514.8 804.4 504.2 805.1 495.7 806.4 488.3 809.7 488.3 810.3 493.6 813.3 499.4 812.9 504.2 809.7 509.5 807.7 513.7M810.3 485.1 812.3 490.4 814.3 494.1 817.5 489.4 820.2 480.9 820.2 476.6 822.1 472.9 830 469.8 834.3 469.2 839.2 467.1 842.5 467.1 846.5 465 846.5 461.3 842.5 462.9 840.6 458.6 841.2 452.6 841.9 450.1 845.2 444.8 849.8 441.7 856.3 437.4 866.2 431.1 866.9 428.9 876.1 425.8 882.6 421.5 885.9 426.8 880.7 430 874.1 434.2 871.5 440.6 876.1 445.9 882.6 440.6 889.2 435.3 899.1 430 905.7 426.8 912.2 419.4 909 408.8 902.4 414.1 899.1 421.5 889.2 421.5 882.6 416.2 880.7 408.8 876.1 401.4 882.6 392.9 884 387.6 876.1 385.5 866.2 384.4 856.3 389.7 849.8 398.2 843.2 406.7 838.6 410.9M820.2 476.6 826.8 475.6 834 471.9 829.4 472.9 822.1 472.9M838.6 410.9 843.2 404.6 849.8 395 856.3 386.5 864.2 383.4 872.8 374.9 885.9 374.9 899.1 374.9 912.2 374.9 925.4 364.3 931.3 362.2M805.1 438.5 813.6 430 820.2 424.7 826.8 419.4 833.3 413 838.6 410.9M701.2 411.4 705.8 408.8 711.7 405.6 717.6 398.7 721.5 395 726.1 389.7 731.4 389.7 738 390.8 744.6 399.3 749.2 408.8 751.1 414.1 747.8 411.4 741.3 413 734.7 414.1 728.1 409.9 724.8 405.6 726.8 404 730.1 404.6 725.5 410.9 718.2 410.9 712.3 413 708.4 410.9 701.2 411.4M729.4 465 733.4 466 737.3 461.8 739.9 453.3 738 444.8 739.9 435.3 743.9 428.9 747.8 424.7 749.2 421.5 743.9 420.5 738 421.5 734.7 425.8 730.7 428.9 728.8 435.3 730.7 440.6 728.8 451.2 729.4 458.6 729.4 465M750.5 421.5 754.4 419.4 757.7 418.3 767.6 418.3 770.9 420.5 777.4 424.7 780.7 431.1 777.4 434.2 772.2 427.9 769.5 431.1 769.5 437.4 766.3 447 764.3 451.2 763.6 444.8 759.7 441.7 755.1 443.8 757.7 437.4 759 430 753.1 423.6 750.5 421.5M757.7 465 763 467.1 770.2 467.1 777.4 462.9 782 458.6 788 452.3 784 452.8 777.4 455.4 770.9 455.4 764.3 461.8 760.3 461.3 757.7 465M782 448 787.3 448 797.2 448.6 805.1 445.9 805.7 440.6 800.4 440.6 793.9 441.1 784.7 444.3 782 448M748.2 675.4 754.4 666.4 761 663.2 767.6 661.6 774.1 662.1 780.7 664.3 787.3 667.4 793.9 671.7 800.4 678 807 682.3 810.3 687.6 818.9 691.8 816.9 695 810.3 696.1 800.4 696.1 795.8 691.8 799.1 687.6 793.9 684.4 789.3 678 784 678 777.4 673.8 770.9 671.7 766.3 669.6 761 673.8 754.4 674.9 748.2 675.4M817.2 712 826.8 714.1 833.3 715.1 839.9 719.4 846.5 714.1 856.3 712 857 708.8 849.8 704.5 846.5 699.2 839.9 696.1 830 696.1 824.1 698.2 828.1 704.5 828.7 709.8 817.2 712M791.6 713.5 797.2 710.9 805.1 714.1 801.8 717.3 795.2 717.3 791.6 713.5M864.9 710.9 875.4 712 874.1 716.2 864.9 716.2 864.9 710.9M700.5 753.3 701.2 748 703.8 736.3 712.3 736.3 712.3 724.1 720.5 718.3 726.1 710.9M720.5 718.3 720.5 738.5M720.5 738.5 726.8 740.6M719.2 754.4 724.8 758.6 729.4 759.7 731.4 766M720.2 755.4 720.5 746.9 726.8 740.6M730.1 759.7 738 758.6 744.6 749.1 751.1 748 759.7 748M743.2 789.3 751.1 790.4 756.4 791.5M761.6 806.3 763.6 819"/>
<path fill="none" stroke="#000" stroke-width="2" stroke-linejoin="round" shape-rendering="crispEdges" d="M498 387.6 681.1 387.6 681.1 383.6 683.4 384.4 684.7 390.8 691.9 392.4 698.5 393.4 705.1 397.1 715 397.1 717.6 398.2M491.4 416.8 498 417.3 501.2 423.6 509.8 423.1 517.7 422.4 524.3 419.9 524.4 419.4 537.9 419.4M537.1 387.6 537.1 414.8 537.9 419.4 540.7 424.7 538.9 428.9 538.1 435.3 536.1 437.4 538.1 442.7 537.2 444.8 537.2 461.8M490.1 461.8 576.5 461.8M517.7 461.8 517.7 493.6 553 536M556.8 461.8 556.8 514.8 556.8 523.3 552.5 524.3 553 536 553.2 541.3 554.5 546.6 552.5 553 552.4 560.2 551.9 562.5 576.4 574.9 595.3 574.9 595.3 570.1 606.3 570.1M556.8 514.8 635.8 514.8M589.7 472.4 589.7 574.9M543.7 387.6 543.7 398.2 546 403.5 550.6 408.8 553.8 413 555.2 423.6 560.4 428.9 563.7 435.3 568.3 435.3 574.2 432.6 576.5 435.3 576.5 472.4 589.7 472.4M576.5 430 622.6 430M589.7 472.4 635.7 472.4 635.7 514.8M622.6 387.6 622.6 472.4M635.7 483 680.1 483M622.6 420 671.8 420M622.6 451.2 659.1 451.2 665.6 452.8 671.6 456.5M667.4 387.6 668.9 396.1 670.2 403.5 671.6 414.1 671.8 420 671.8 426.8 672.5 426.8 672.5 445.9 706.9 445.9M672.5 445.9 671.6 456.5 674.8 462.9 676.2 469.2 676.5 476.6 680.1 483 682.7 486.2 684.7 492.5 684.6 514.8 684.6 520.1 685.8 531.8 685.5 550.4 688.4 551.4 688.4 557.2 688.4 567.8 690 573.1 690.6 578.4 691.6 583.7 689.7 592.2M677 476.9 703.8 476.6 705.8 479M635.7 514.8 684.6 514.8M629.5 514.8 629.5 520.1 649.2 520.1 649.2 540.7 654.5 543.4 662.4 546.6 668.9 548.7 675.5 548.2 682.1 547.7 688.4 551.4M629.5 520.1 629.1 567.8 605.7 567.8 606.3 570.1M684.6 520.1 714 520.1 714.3 525.4 716.9 525.4M688.4 557.2 707.3 557.2M706.9 445.9 707.7 454.4 711 456.5 713.6 463.9 708.4 470.3 705.8 479 705.8 483 710.4 493.6 713.6 497.8 718.2 507.4 720.2 514.8 718.2 520.1 716.9 525.4 714.3 536 711 543.4 707.7 551.9 707.3 557.2 707.1 564.6 704.4 572 704.4 578.4 716.7 578.4 717.6 586.9M699.8 412 699.8 418.3 696.5 423.6 696.5 432.6 701.8 436.4 706.9 445.9M710.8 456.5 729.4 456.5M712.3 413.4 715 416.2 721.5 419.4 728.1 421.5 730.7 428.9M731.2 465 731.2 489.9 730.7 494.7 728.8 501 727.5 506.3M720.2 514.8 724.8 513.7 727.5 509.5 730.7 505.3 736 504.7 741.3 504.2 744.6 498.9 749.2 495.7 752.4 494.7 757 497.8 763.6 498.9 765.6 497.8 769.5 491.5 772.8 489.4 776.1 486.2 777.3 476.2M731.2 464.3 749.2 464.3 758 464.7M749 465 749 492.5M718.2 520.1 728.1 520.1 756.4 519 769.5 519 807.7 519.6M756.4 519 763.6 512.7 767.6 509.5 763.6 502.1M768.2 509.5 774.1 511.6 778.7 509.5 783.4 500 787.3 493.6 791.2 491.5 795.2 490.4M713 536 760.3 536M726.8 536 725.5 546.6 725.5 568.9 725.5 584.8M743.9 536 746.5 557.2 747.8 564.6 747.8 578.4M730.7 579.5 730.7 578.4 747.8 578.4 748.5 581.6 766.3 583 767.6 580.5 770.9 581.6M760.3 536 764.9 533.9 774.1 534.4 775.5 538.1 782.7 538.1 790.3 548.1M760.3 536 763.6 541.3 766.3 549.8 770.2 556.1 774.1 566.7M752.4 536 757.7 530.7 764.3 525.4 769.5 519M777.3 461.8 777.3 486 808.3 486M782.3 461.8 811.3 461.8 812.9 463.9 815.6 468.7 812.9 474.5 812.3 481.9 810.3 485.1M808.3 486 808.3 499.4 813.3 499.4M795.2 490.4 797.2 492.5 799.8 494.7 800.4 500 805.1 504.7M784.1 486 784.1 491.5 787.3 489.4 791.2 487.2 795.2 490.4M824.5 430 824.5 444.8 825.1 453.8 823.5 461.3 823.5 471.3 822.1 472.9M823.5 461.3 834.6 461.6 837.3 461.8M834.6 461.6 834.3 469.2M837.3 461.8 839.1 467.1M836.6 430 833.3 437.4 830 451.2 830.4 454.1M825.1 453.8 837.9 454.4 841.2 452.6M839.4 426.8 839.9 440.6 841.9 450.1M815.6 430 836.6 430 839.4 426.8 843.2 422.6 846.5 412 851.7 404 857.7 405.1 860.9 408.1 860.9 422.6 863.6 427.9 866.2 431.1M606.3 570.1 616.3 581.6 619.6 592.2 627.5 599.6 631.4 592.2 640 591.1 647.2 607 652.5 615.5 655.1 626.1 662.4 630.3 667.9 631.9M379.6 168.7 379.6 267.8 392.7 271 402.6 281.6 409.2 276.3 415.8 273.1 419 276.3 428.9 286.9 438.8 302.8 451.9 313.4 451.9 324"/>
<path fill="none" stroke="#000" stroke-width="2" stroke-linejoin="round" shape-rendering="crispEdges" d="M931.7 112 936.7 115.3 943.3 125.3 948.3 132 950 135.3 944.2 137.8 944.2 145.3 941.7 147.8 945 151.2 951.7 150.3 956.7 146.2 966.7 147 970 153.7 975 162 980 165.3M950.8 157 960 155.7 970 158.7 980 162M948.3 164.5 949.2 169.5 955.8 172.8 965 170.7 967.5 167 960 162.8 951.7 162 948.3 164.5M953.3 160.3 966.7 162 980 166.2M980 168.7 976.7 172 977.5 177 970 178.7 963.3 180.3 961.7 185.3 966.7 187 975 185.3 977.5 190.3 973.3 192 963.3 190.3 958.3 190.3 956.7 193.7 959.2 198.7 956.7 203.7 960 208.7 963.3 212 966.7 218.7 966.7 225.3 972.5 222.8 980 220.3M980 227 971.7 228.7 970 232 975 237 980 240.3M880 187 883.3 188.7 886.7 193.7 883.3 195.3 886.7 200.3 891.7 198.7 895 202 900 199.5 905 202 903.3 205.3 898.3 205.3 896.7 208.7 893.3 210.3M681.2 114.2 689.8 115.3 696.3 113.1 702.8 115.3 711.5 114.2 720.2 116.3 726.7 115.3 735.3 116.3 741.8 114.2 752.7 116.3 761.3 115.3 770 117.4 778.7 116.3 780.4 120.2M680.1 127.2 686.6 123.3 696.3 124.6 705 122.4 711.5 123.9 709.3 128.3 700.7 131.5 694.2 131.5 689.8 133.7 686.6 138 684.4 140.2 681.2 135.8 680.1 127.2M721.3 134.8 725.6 128.3 733.2 125.4 744 124.6 746.2 128.3 741.8 131.5 738.6 135.8 741.8 142.3 747.3 145.6 752.7 151 749.4 154.3 744 152.1 736.4 148.8 728.8 146.7 722.3 144.5 719.1 140.2 721.3 134.8M746.2 129.3 757 126.7 770 125.4 778.7 127.2 789.5 126.1 800.3 126.7 806.8 131.5 804.7 134.8 796 133.7 787.3 133.7 780.8 136.9 776.5 142.3 778.7 145.6 785.2 144.5 791.7 140.2 800.3 139.1 811.2 140.2 815.5 144.5 819.8 147.8 826.3 148.8 830.7 152.1 837.2 154.3 843.7 155.3 848 158.6 851.3 160.8 856.7 162.9 861 165.1 866.4 167.3 867.5 171.6 861 174.8 856.7 177 863.2 181.3 869.7 183.5 874 186.8 880.5 190 887 193.3 893.5 194.3 900 197.6M377.5 165.5 365 162.5 355 161.2 342.5 159.5 330 158 320 157 310 155 305 152.5 297.5 155 287.5 153.8 282.5 151.2 278.8 153.8 270 152.5 262.5 155 255 156.2 252.5 160 242.5 162 237.5 165 232.5 170 222.5 175 212.5 178.8 211.2 183.8 217.5 186.2 225 190 230 195 240 197.5 247.5 200 255 203 247.5 205 240 203.8 230 202.5 220 203.8 210 205 203.8 210 210 213.8 217.5 217.5 227.5 220 237.5 222.5 245 221.2 250 223.8 247.5 228.8 240 232.5 230 235 225 240 217.5 245 215 252.5 220 260 225 265 233.8 268.8 240 275 242.5 282.5 250 285 260 283.8 270 283.8 275 288.8 271.2 295 266.2 302.5 255 307.5 245 312.5 235 320 225 327.5M223.8 330 240 322.5 255 315 270 307.5 280 300 290 292.5 295 282.5 305 276.2 310 270 315 262.5 320 258.8 325 260 322.5 267.5 316.2 275 320 278.8 330 275 333.8 265 335 260 340 261.2 345 267.5 355 270 365 270 377.5 272.5 387.5 275 397.5 280 410 285 420 290M293.8 292.5 302.5 288.8 306.2 292.5 303.8 300 297.5 303.8 292.5 300 293.8 292.5M332.5 262.5 340 260 342.5 266.2 337.5 270 331.2 268.8 332.5 262.5M223.8 330 215 333.8 207.5 337.5 200 341.2 195 342.5M380 167.5 392.5 171.2 405 173.8 416.2 178.8 420 173 430 171.2 440 170 455 165 462.5 160.5 471.2 158.8 480 161.2M430 176.2 440 171.2 450 167.5 455 165 450 172.5 440 176.2 432.5 180 430 176.2M486.8 118.7 494.3 117.8 502.7 117 511 116.7 516 118.7 522.7 120.3 529.3 121.2 536 122 542.7 123.7 546.8 127 539.3 128.7 531 132 526 135.3 519.3 138.7 516 141.2 515.2 145.3 509.3 147.8 502.7 150.3 497.7 152 494.3 150.3 491 147 486 145.3 481 143.7 482.7 138.7 483.5 135.3 484.3 132 487.7 130.3 491 128.7 489.3 123.7 486.8 118.7M524.3 142.8 529.3 138.7 534.3 135.3 541 132 546.8 129.5 552.7 129.5 556 131.2 557.7 135.3 562.7 134.5 569.3 135.3 572.7 137 574.3 140.3 579.3 139.5 581 133.7 584.3 132.8 589.3 133.7 591.8 138.7 594.3 142.8 597.7 146.2 598.5 142.8 596.8 137 596 130.3 599.3 128.7 604.3 129.5 607.7 127.8 614.3 126.2 618.5 127 620.2 129.5 616 131.2 614.3 135.3 616 140.3 619.3 145.3 621 150.3 622.7 153.7 629.3 157 636 160.3 641 163.7 644.3 167 642.7 170.3 636 172 631 171.2 629.3 169.5 634.3 168.7 634.3 167 629.3 166.2 622.7 167 617.7 170.3 614.3 172.8 609.3 172 606 171.2 601 173.7 596 175.3 589.3 177 582.7 178.7 576 178.7 569.3 178.7 562.7 177 556 173.7 549.3 170.3 542.7 168.7 537.7 167 534.3 165.3 537.7 162.8 544.3 161.2 552.7 160.3 562.7 160.3 572.7 161.2 571 159.5 562.7 158.7 552.7 157.8 542.7 157 534.3 155.3 531 153.7 534.3 152 542.7 151.2 547.7 151.2 546.8 149.5 539.3 149.5 534.3 148.7 529.3 147 526 145.3 524.3 142.8M456 168.7 462.7 165.3 466 162 462.7 158.7 466 157.8 471 162 474.3 167 479.3 170.3 482.7 172 484.3 168.7 487.7 167 489.3 171.2 494.3 170.3 499.3 167 506 167.8 514.3 169.5 522.7 172 529.3 173.7 536 175.3 542.7 176.2 549.3 177.8 556 178.7 559.3 182 549.3 183.7 547.7 187 552.7 189.5 559.3 190.3 566 189.5 572.7 188.7 579.3 187.8 586 188.7 589.3 190.3 592.7 193.7 594.3 197 599.3 201.2 601 202 602.7 197 601 192 599.3 188.7 602.7 185.3 607.7 183.7 612.7 183.7 616 185.3 622.7 187 629.3 188.7 636 190.3 644.3 190.3 651 189.5 656 188.7M596 182 601 178.7 607.7 177 612.7 177.8 612.7 180.3 606 182 599.3 183.7 596 182M557.7 113.7 564.3 116.2 572.7 117 579.3 115.3 586 113.7 582.7 112M656 123.7 649.3 124.5 644.3 126.2 641 127.8 646 130.3 642.7 133.7 636 132 632.7 134.5 636 137 642.7 138.7 647.7 142 651 145.3 654.3 148.7 656 152M650 145 656.7 148.3 661.7 151.7 666.7 150 671.7 146.7 675 140 673.3 135 666.7 131.7 661.7 130M673.3 151.7 678.3 148.3 683.3 146.7 690 148.3 695 151.7 700 158.3 700 163.3 696.7 166.7 691.7 166.7 688.3 171.7 683.3 170 678.3 166.7 675 161.7 673.3 156.7 673.3 151.7M656.7 171.7 663.3 168.3 670 168.3 675 171.7 680 175 683.3 178.3 680 181.7 675 180 670 178.3 663.3 178.3 656.7 178.3 655 175 656.7 171.7M650 186.7 656.7 183.3 663.3 181.7 668.3 183.3 673.3 186.7 676.7 191.7 680 196.7 683.3 193.3 681.7 186.7 686.7 181.7 693.3 178.3 698.3 173.3M698.3 168.3 705 170 710 171.7 713.3 176.7 716.7 180 720 176.7 723.3 175 726.7 180 728.3 186.7 730 191.7 733.3 195 736.7 191.7 740 186.7 743.3 181.7 746.7 176.7 751.7 173.3 750 170 746.7 168.3 753.3 167.5 760 169.2 766.7 171.7 771.7 175 773.3 178.3 766.7 180 765 183.3 770 186.7 773.3 191.7 771.7 196.7 766.7 200 760 203.3 756.7 201.7 753.3 198.3 750 196.7 746.7 200 743.3 201.7 738.3 201.7 736.7 205M716.7 146.7 720 150 725 153.3 731.7 155 736.7 158.3 743.3 161.7 750 163.3 756.7 164.2 763.3 165 770 165 776.7 163.3 780 160 776.7 157.5 783.3 158.3 790 161.7 795 165 800 168.3 803.3 171.7 808.3 175 813.3 178.3 816.7 180 821.7 183.3 826.7 186.7 831.7 191.7 833.3 196.7 830 200 825 201.7 823.3 206.7 820 210 816.7 215 813.3 218.3 810 220 806.7 216.7 800 215 795 218.3 796.7 225 803.3 226.7 810 225 816.7 223.3 823.3 221.7 830 225 835 230 840 233.3 843.3 238.3 845 243.3 850 246.7M801.7 188.3 805 183.3 811.7 183.3 814.2 188.3 810 194.2 803.3 193.3 801.7 188.3M786.7 175 790 172.5 794.2 173.3 791.7 176.7 786.7 176.7 786.7 175M695 230 700 231.7 706.7 233.3 711.7 236.7 710 240 705 241.7 700 245 696.7 248.3 693.3 251.7 690 256.7 687.5 263.3 685.8 271.7 685 280M710 208.3 716.7 209.2 721.7 211.7 728.3 213.3 733.3 216.7 731.7 220 728.3 223.3 726.7 223.3M736.7 230 740 223.3 745 216.7 748.3 211.7 753.3 213.3 760 216.7 766.7 220 770 225 775 230 778.3 231.7 773.3 233.3 766.7 231.7 760 231.7 753.3 233.3 748.3 236.7 743.3 235 738.3 233.3 736.7 230M756.7 245 760 241.7 766.7 240 770 241.7 766.7 245 760 248.3 756.7 245M780 250 783.3 246.7 786.7 248.3 785 253.3 781.7 255 780 250M793.3 258.3 796.7 250 800 246.7 806.7 245 813.3 245 820 246.7 826.7 250 833.3 251.7 841.7 256.7 850 260M795 280 796.7 271.7 798.3 266.7 800 263.3 796.7 260 795 258.3M705 235 697.5 242.5 690 252.5 685 262.5 685 272.5 687.5 282.5 692.5 290 697.5 297.5 702.5 302.5 715 305 725 310 735 315 745 320 755 322.5 765 325 767.5 330 770 340 768.8 347.5 772.5 350 775 345 776.2 352.5 780 360 785 365 790 362.5 791.2 357.5 790 350 787.5 340 787.5 330 792.5 325 800 320 805 312.5 805 302.5 802.5 292.5 797.5 285 795 280 797.5 275 800 267.5 797.5 260 797.5 252.5 800 247.5 807.5 245 815 247.5 825 252.5 835 255 845 260 850 267.5 850 277.5 855 282.5 860 290 865 287.5 870 282.5 872.5 277.5 877.5 272.5 880 267.5 882.5 275 887.5 282.5 892.5 290 897.5 297.5 900 305 905 312.5 910 317.5 915 322.5 925 327.5 930 330 935 335 940 340 942.5 347.5 940 355 930 360M885 380 892.5 378.8 900 382.5 895 386.2 885 383.8 885 380M782.5 312.5 787.5 310 790 315 785 316.2 782.5 312.5M755 242.5 762.5 240 770 242.5 765 247.5 757.5 247.5 755 242.5M780 250 785 247.5 787.5 252.5 782.5 253.8 780 250M830 230 837.5 235 850 240 860 242.5 870 245 880 250 882.5 255M855 230 865 235 875 240 880 237.5 882.5 232.5M379.3 260 381.7 266.2 390.2 269.3 398 274 404.2 277.1 410.4 277.1 416.7 274 419.8 277.1 426 284.9 432.2 291.1 438.4 298.9 444.7 305.1 450.9 309.8 454 314.4 454 322.2 453.2 328.4 450.9 334.7 452.4 340.9 457.1 344 461.8 347.1 466.4 351.8 471.1 353.3 469.5 359.5 466.4 362.6 469.5 367.3 475.8 368.9 482 372 486.6 375.1 491.3 378.2 494.4 381.3 497.5 384.4 500.6 389.1 502.2 395.3 503.7 400M408.9 289.5 413.5 286.4 419.8 288 424.4 292.7 429.1 297.3 435.3 302 440 306.7 443.1 312.9 444.7 319.1 441.5 325.3 436.9 326.9 432.2 322.2 429.1 317.5 424.4 312.9 419.8 308.2 416.7 303.5 413.5 298.9 410.4 294.2 408.9 289.5M415.1 295.8 421.3 298.9 426 305.1 432.2 309.8 436.9 316 438.4 322.2M432.2 334.7 435.3 333.1 438.4 336.2 440 342.4 443.1 350.2 441.5 351.8 438.4 348.6 435.3 344 433.8 339.3 432.2 334.7M463.3 368.9 468 367.3 474.2 368.9 478.9 372 485.1 373.5 488.2 378.2 486.6 382.9 482 381.3 477.3 378.2 472.6 375.1 468 372 463.3 368.9M488.2 379.8 491.3 384.4 494.4 389.1 497.5 393.7 499.1 400M156 196.7 157.7 199.2 161 196.7 164.3 195.8 168.5 196.7 172.7 196.7 176.8 198.3 181 201.7 186 205 191 207.5 187.7 208.3 181 209.2 177.7 210 172.7 210 170.2 210.8 171 213.3 172.7 215 171 217.5 168.5 219.2 168.5 223.3 164.3 223.3 161 222.5 157.7 220.8 156 220M176.8 232.5 179.3 231.7 183.5 232.9 187.7 234.2 191.8 235.8 196 236.7 191.8 238.3 189.3 237.5 186 235.8 181 235 177.7 234.2 176.8 232.5M940 360 936.7 366.7 933.3 373.3 928.3 380 923.3 386.7 920 393.3 918.3 400 923.3 403.3 933.3 405 940 408.3 946.7 410 953.3 411.7 960 411.7 961.7 403.3 960 396.7 956.7 390 950 385 945 380 940 375 938.3 368.3 940 360M911.7 341.7 918.3 335 926.7 332.5 932.5 335 934.2 343.3 938.3 350 940.8 356.7M885 378.3 893.3 380 900 383.3 896.7 385.8 888.3 383.3 885 378.3"/>
<path fill="none" stroke="#ffff00" stroke-width="1" shape-rendering="crispEdges" d="M273.8 144.5 377.5 165 379.5 165.5 379.5 261 400 271 420 271 451 314 451 335.5 439 335.5 426 324 386 281 346 271 340 282 320 282 294.5 314.5 280 304 261 325 195.5 356 195.5 335 262 302.5 267.5 292.5 247.5 292.5 220 272 216 282.5 203 271 215 260 209 250 234 230 208 229.5 196 208 221 197 209 187.5 209 176 273.8 144.5M484.5 377.4 729 377.4 763 421.8 767.7 430 767.7 452.2 760.7 462 767.7 462 782.8 448.7 787.5 441.2 799.2 441.2 807.3 430 835.3 430 840 418.3 852.8 398.5 859.8 398.5 866.8 409 868 420.7 872.7 430 872.7 441.7 847 451 854 473.2 827 483 815 512.5 813 535 800 550 775 578.3 787 642 767 642 755 599 695 599 676 609 668 642 655 632.5 642.5 599 621.7 599 609 578.3 575 577.3 517.3 558 484.5 484.5 484.5 377.4"/>
<path fill="none" stroke="#00ffff" stroke-width="1" shape-rendering="crispEdges" d="M373.8 165 467.5 155 471 155.8 756 227 885 261 911.7 313.3 925 324 938.3 335 948.5 360 965 397 959 419.5 932 409 872.7 451 860 409 854 409 840 430 813 430 787.5 451 762 420 700.5 388.5 491.4 388.5 484.5 398.4 432 343.5 426.2 323.8 445 323.8 445 315 418.8 282 405 282 373.8 271.2 373.8 165"/>
</g>
<rect x="156.5" y="112.5" width="822" height="689" fill="none" stroke="#000" stroke-width="1"/>
<g class="mono" font-size="25" stroke="#000" stroke-width="0.5" text-anchor="middle" fill="#000"><text x="566" y="20">Shadow Raytheon LPV200 Coverage Contours</text><text x="566" y="45.5">12/26/21</text><text x="566" y="71">Week 2190 Day 0</text></g>
<g class="mono" font-size="21.67" fill="#000" stroke="#fff" stroke-width="0.55"><text x="222.1" y="823">&#8722;160</text><text x="353.7" y="823">&#8722;140</text><text x="485.2" y="823">&#8722;120</text><text x="616.7" y="823">&#8722;100</text><text x="748.2" y="823">&#8722;80</text><text x="879.7" y="823">&#8722;60</text><text x="149" y="169.7" text-anchor="end">70</text><text x="149" y="275.7" text-anchor="end">60</text><text x="149" y="381.7" text-anchor="end">50</text><text x="149" y="487.7" text-anchor="end">40</text><text x="149" y="593.7" text-anchor="end">30</text><text x="149" y="699.7" text-anchor="end">20</text><text x="149" y="805.7" text-anchor="end">10</text></g>
<g class="mono" font-weight="bold" font-size="18.2" fill="#000"><text x="569.5" y="844" text-anchor="middle">Longitude</text><text transform="translate(110.8 454.4) rotate(-90)" text-anchor="middle">Latitude</text></g>
<g shape-rendering="crispEdges"><rect x="1010" y="791" width="43" height="11" fill="#00008f"/><rect x="1010" y="780" width="43" height="11" fill="#00009f"/><rect x="1010" y="770" width="43" height="10" fill="#0000af"/><rect x="1010" y="759" width="43" height="11" fill="#0000bf"/><rect x="1010" y="748" width="43" height="11" fill="#0000cf"/><rect x="1010" y="737" width="43" height="11" fill="#0000df"/><rect x="1010" y="727" width="43" height="10" fill="#0000ef"/><rect x="1010" y="716" width="43" height="11" fill="#0000ff"/><rect x="1010" y="705" width="43" height="11" fill="#0010ff"/><rect x="1010" y="694" width="43" height="11" fill="#0020ff"/><rect x="1010" y="684" width="43" height="10" fill="#0030ff"/><rect x="1010" y="673" width="43" height="11" fill="#0040ff"/><rect x="1010" y="662" width="43" height="11" fill="#0050ff"/><rect x="1010" y="651" width="43" height="11" fill="#0060ff"/><rect x="1010" y="641" width="43" height="10" fill="#0070ff"/><rect x="1010" y="630" width="43" height="11" fill="#0080ff"/><rect x="1010" y="619" width="43" height="11" fill="#008fff"/><rect x="1010" y="608" width="43" height="11" fill="#009fff"/><rect x="1010" y="597" width="43" height="11" fill="#00afff"/><rect x="1010" y="587" width="43" height="10" fill="#00bfff"/><rect x="1010" y="576" width="43" height="11" fill="#00cfff"/><rect x="1010" y="565" width="43" height="11" fill="#00dfff"/><rect x="1010" y="554" width="43" height="11" fill="#00efff"/><rect x="1010" y="544" width="43" height="10" fill="#00ffff"/><rect x="1010" y="533" width="43" height="11" fill="#10ffef"/><rect x="1010" y="522" width="43" height="11" fill="#20ffdf"/><rect x="1010" y="511" width="43" height="11" fill="#30ffcf"/><rect x="1010" y="501" width="43" height="10" fill="#40ffbf"/><rect x="1010" y="490" width="43" height="11" fill="#50ffaf"/><rect x="1010" y="479" width="43" height="11" fill="#60ff9f"/><rect x="1010" y="468" width="43" height="11" fill="#70ff8f"/><rect x="1010" y="458" width="43" height="10" fill="#80ff80"/><rect x="1010" y="447" width="43" height="11" fill="#8fff70"/><rect x="1010" y="436" width="43" height="11" fill="#9fff60"/><rect x="1010" y="425" width="43" height="11" fill="#afff50"/><rect x="1010" y="414" width="43" height="11" fill="#bfff40"/><rect x="1010" y="404" width="43" height="10" fill="#cfff30"/><rect x="1010" y="393" width="43" height="11" fill="#dfff20"/><rect x="1010" y="382" width="43" height="11" fill="#efff10"/><rect x="1010" y="371" width="43" height="11" fill="#ffff00"/><rect x="1010" y="361" width="43" height="10" fill="#ffef00"/><rect x="1010" y="350" width="43" height="11" fill="#ffdf00"/><rect x="1010" y="339" width="43" height="11" fill="#ffcf00"/><rect x="1010" y="328" width="43" height="11" fill="#ffbf00"/><rect x="1010" y="318" width="43" height="10" fill="#ffaf00"/><rect x="1010" y="307" width="43" height="11" fill="#ff9f00"/><rect x="1010" y="296" width="43" height="11" fill="#ff8f00"/><rect x="1010" y="285" width="43" height="11" fill="#ff8000"/><rect x="1010" y="274" width="43" height="11" fill="#ff7000"/><rect x="1010" y="264" width="43" height="10" fill="#ff6000"/><rect x="1010" y="253" width="43" height="11" fill="#ff5000"/><rect x="1010" y="242" width="43" height="11" fill="#ff4000"/><rect x="1010" y="231" width="43" height="11" fill="#ff3000"/><rect x="1010" y="221" width="43" height="10" fill="#ff2000"/><rect x="1010" y="210" width="43" height="11" fill="#ff1000"/><rect x="1010" y="199" width="43" height="11" fill="#ff0000"/><rect x="1010" y="188" width="43" height="11" fill="#ef0000"/><rect x="1010" y="178" width="43" height="10" fill="#df0000"/><rect x="1010" y="167" width="43" height="11" fill="#cf0000"/><rect x="1010" y="156" width="43" height="11" fill="#bf0000"/><rect x="1010" y="145" width="43" height="11" fill="#af0000"/><rect x="1010" y="135" width="43" height="10" fill="#9f0000"/><rect x="1010" y="124" width="43" height="11" fill="#8f0000"/><rect x="1010" y="113" width="43" height="11" fill="#800000"/></g>
<rect x="1010.5" y="113.5" width="42" height="689" fill="none" stroke="#000" shape-rendering="crispEdges"/>
<path stroke="#000" d="M1011 342.5H1017M1052 342.5H1046M1011 571.5H1017M1052 571.5H1046M1011 801.5H1017M1052 801.5H1046"/>
<g class="sans" font-size="20.5" fill="#000"><text x="1057" y="120">1</text><text x="1057" y="349.3">0.95</text><text x="1057" y="579">0.9</text><text x="1057" y="808.3">0.85</text></g>
<g class="mono" font-size="15" fill="#000" style="white-space:pre"><text x="161.5" y="529.8" xml:space="preserve">Percent| CONUS   | Alaska  | Canada</text><text x="161.5" y="550.8" xml:space="preserve"> Avail.|Coverage |Coverage | Coverage</text><text x="161.5" y="572.7" xml:space="preserve">  95   | 100.00%  | 97.66% | 100.00%</text><text x="161.5" y="593.7" xml:space="preserve">  98   | 100.00%  | 97.01% | 100.00%</text><text x="161.5" y="614.6" xml:space="preserve">  99   | 99.88%  | 96.03% | 99.83%</text><text x="161.5" y="635.6" xml:space="preserve">99.9   | 96.80%  | 95.31% | 99.13%</text><text x="161.5" y="656.6" xml:space="preserve"> 100   | 96.24%  | 95.00% | 98.87%</text></g>
<path d="M163 557.6H504" stroke="#000" stroke-width="1.4" stroke-dasharray="5.4 3.5"/>
<g font-family="'DejaVu Sans Mono','Liberation Mono',monospace" font-size="11" fill="#000" letter-spacing="-0.62"><text x="187" y="746.5">W.J.H. FAA Technical Center</text><text x="187" y="759.3">WAAS Test Team</text></g>
</svg></body></html>
